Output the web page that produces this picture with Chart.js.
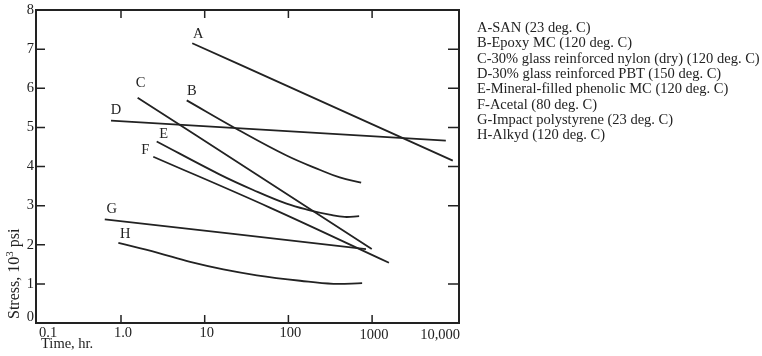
<!DOCTYPE html>
<html>
<head>
<meta charset="utf-8">
<script src="https://cdn.jsdelivr.net/npm/chart.js@4.4.1/dist/chart.umd.min.js"></script>
<style>
  body { margin: 0; background: #fff; }
  #wrap { position: relative; width: 762px; height: 356px; }
  #legend { position: absolute; left: 477px; top: 0; font-family: "Liberation Serif", "Times New Roman", serif; font-size: 14.5px; color: #222; }
  #legend div { position: absolute; white-space: nowrap; line-height: 16px; }
</style>
</head>
<body>
<div id="wrap">
  <canvas id="creepChart" width="762" height="356"></canvas>
  <div id="legend"></div>
</div>
<script>
// axis ticks
const xTicks = [0.1, 1, 10, 100, 1000, 10000];
const xTickLabels = ['0.1', '1.0', '10', '100', '1000', '10,000'];
const yTicks = [0, 1, 2, 3, 4, 5, 6, 7, 8];

// series (time in hr, stress in 10^3 psi)
const letters = ['A', 'B', 'C', 'D', 'E', 'F', 'G', 'H'];
const legendLabels = [
    'A-SAN (23 deg. C)',
    'B-Epoxy MC (120 deg. C)',
    'C-30% glass reinforced nylon (dry) (120 deg. C)',
    'D-30% glass reinforced PBT (150 deg. C)',
    'E-Mineral-filled phenolic MC (120 deg. C)',
    'F-Acetal (80 deg. C)',
    'G-Impact polystyrene (23 deg. C)',
    'H-Alkyd (120 deg. C)'
];

const timeA = [7.1, 104, 9200];
const stressA = [7.15, 6.03, 4.15];
const timeB = [6.1, 25, 95, 240, 410, 740];
const stressB = [5.69, 4.94, 4.28, 3.91, 3.72, 3.59];
const timeC = [1.58, 40, 990];
const stressC = [5.76, 3.82, 1.89];
const timeD = [0.76, 7600];
const stressD = [5.17, 4.66];
const timeE = [2.67, 15, 38, 95, 180, 310, 470, 700];
const stressE = [4.64, 3.80, 3.40, 3.05, 2.88, 2.77, 2.71, 2.73];
const timeF = [2.43, 60, 1590];
const stressF = [4.25, 2.95, 1.54];
const timeG = [0.64, 845];
const stressG = [2.65, 1.89];
const timeH = [0.93, 2.7, 6.7, 16.7, 42, 138, 345, 760];
const stressH = [2.05, 1.80, 1.56, 1.37, 1.22, 1.08, 1.00, 1.02];

const times = [timeA, timeB, timeC, timeD, timeE, timeF, timeG, timeH];
const stresses = [stressA, stressB, stressC, stressD, stressE, stressF, stressG, stressH];

// label offsets from the first point of each curve (px)
const labelOffsets = [[6, -9], [5, -9], [3, -14], [5, -11], [7, -7], [-8, -7], [7, -10], [7, -9]];

const FONT = '"Liberation Serif", "Times New Roman", serif';
const INK = '#222';

const legendEl = document.getElementById('legend');
legendLabels.forEach((txt, i) => {
    const d = document.createElement('div');
    d.textContent = txt;
    d.style.top = (19 + i * 15.3) + 'px';
    legendEl.appendChild(d);
});

const datasets = letters.map((l, i) => ({
    label: l,
    data: times[i].map((t, j) => ({ x: t, y: stresses[i][j] })),
    borderColor: INK,
    borderWidth: 1.8,
    pointRadius: 0,
    showLine: true,
    tension: 0.4,
    fill: false
}));

const framePlugin = {
    id: 'frame',
    afterDraw(chart) {
        const ctx = chart.ctx;
        const a = chart.chartArea;
        const xs = chart.scales.x, ys = chart.scales.y;
        ctx.save();
        ctx.strokeStyle = INK;
        ctx.fillStyle = INK;
        ctx.lineWidth = 2;
        ctx.strokeRect(a.left, a.top, a.right - a.left, a.bottom - a.top);

        // inward ticks
        ctx.lineWidth = 1.5;
        ctx.beginPath();
        xTicks.slice(1, 5).forEach(v => {
            const px = xs.getPixelForValue(v);
            ctx.moveTo(px, a.bottom); ctx.lineTo(px, a.bottom - 8);
            ctx.moveTo(px, a.top); ctx.lineTo(px, a.top + 8);
        });
        yTicks.slice(1, 8).forEach(v => {
            const py = ys.getPixelForValue(v);
            ctx.moveTo(a.left, py); ctx.lineTo(a.left + 9, py);
            if (v !== 2) { ctx.moveTo(a.right, py); ctx.lineTo(a.right - 11, py); }
        });
        ctx.stroke();

        // tick labels
        ctx.font = '14.5px ' + FONT;
        ctx.textBaseline = 'alphabetic';
        xTicks.forEach((v, i) => {
            let px = xs.getPixelForValue(v);
            if (i === 0) { ctx.textAlign = 'left'; px = a.left + 3; }
            else if (i === xTicks.length - 1) { ctx.textAlign = 'right'; px = a.right + 1; }
            else ctx.textAlign = 'center';
            ctx.fillText(xTickLabels[i], px + (i > 0 && i < 5 ? 2 : 0), i >= 4 ? 339 : 337);
        });
        ctx.textAlign = 'right';
        ctx.textBaseline = 'middle';
        yTicks.forEach(v => {
            const py = Math.min(ys.getPixelForValue(v), a.bottom - 6);
            ctx.fillText(String(v), a.left - 2, py);
        });

        // axis titles
        ctx.textAlign = 'left';
        ctx.textBaseline = 'alphabetic';
        ctx.fillText('Time, hr.', 41, 348);
        ctx.save();
        ctx.translate(19, a.bottom - 4);
        ctx.rotate(-Math.PI / 2);
        ctx.font = '16px ' + FONT;
        const t1 = 'Stress, 10';
        ctx.fillText(t1, 0, 0);
        let w = ctx.measureText(t1).width;
        ctx.font = '11px ' + FONT;
        ctx.fillText('3', w, -6);
        w += ctx.measureText('3').width;
        ctx.font = '16px ' + FONT;
        ctx.fillText(' psi', w, 0);
        ctx.restore();

        // curve letters
        ctx.font = '14.5px ' + FONT;
        ctx.textAlign = 'center';
        ctx.textBaseline = 'middle';
        letters.forEach((l, i) => {
            const px = xs.getPixelForValue(times[i][0]) + labelOffsets[i][0];
            const py = ys.getPixelForValue(stresses[i][0]) + labelOffsets[i][1];
            ctx.fillText(l, px, py);
        });
        ctx.restore();
    }
};

const ctx = document.getElementById('creepChart').getContext('2d');
new Chart(ctx, {
    type: 'scatter',
    data: { datasets: datasets },
    options: {
        responsive: false,
        animation: false,
        devicePixelRatio: 1,
        layout: { padding: { left: 36, top: 10, right: 303, bottom: 33 } },
        plugins: { legend: { display: false }, tooltip: { enabled: false } },
        scales: {
            x: { type: 'logarithmic', min: 0.0965, max: 10920, display: false },
            y: { type: 'linear', min: 0, max: 8, display: false }
        }
    },
    plugins: [framePlugin]
});
</script>
</body>
</html>
